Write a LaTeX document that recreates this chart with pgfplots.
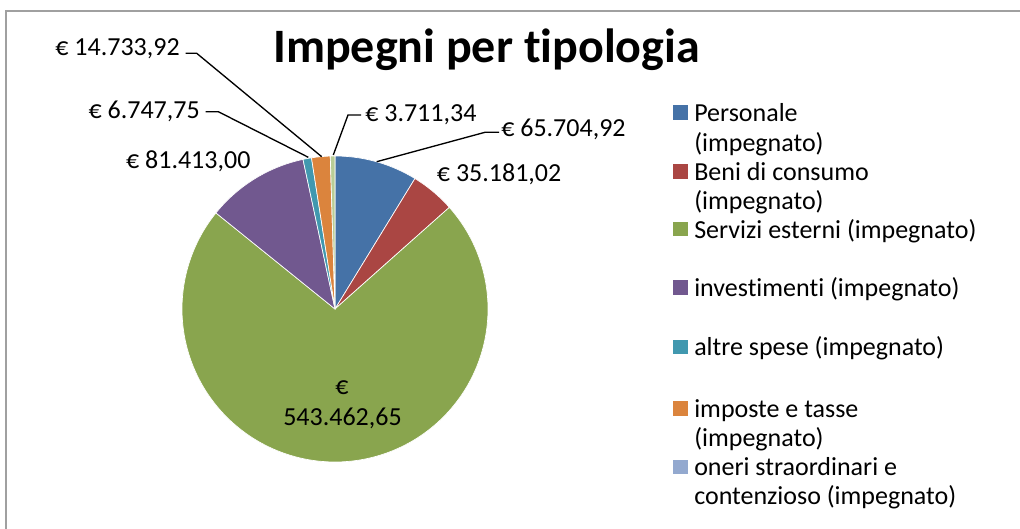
\documentclass[border=0pt]{standalone}
\usepackage{fontspec}
\setmainfont{Carlito}[Ligatures={NoCommon}]
\usepackage{pgfplots}
\usepackage{pgfplotstable}
\pgfplotsset{compat=1.18}
\definecolor{c0}{HTML}{4572A7}
\definecolor{c1}{HTML}{AA4643}
\definecolor{c2}{HTML}{89A54E}
\definecolor{c3}{HTML}{71588F}
\definecolor{c4}{HTML}{4198AF}
\definecolor{c5}{HTML}{DB843D}
\definecolor{c6}{HTML}{B9CD96}
\definecolor{c6leg}{HTML}{93A9CF}
\definecolor{frame}{HTML}{A0A0A0}

\pgfplotstableread{
idx value
0 65704.92
1 35181.02
2 543462.65
3 81413.00
4 6747.75
5 14733.92
6 3711.34
}\piedata

\newcommand{\lab}{\fontsize{19.5pt}{23pt}\selectfont}

\begin{document}
\begin{tikzpicture}
\pgfplotstablegetelem{0}{value}\of\piedata \let\vA\pgfplotsretval
\pgfplotstablegetelem{1}{value}\of\piedata \let\vB\pgfplotsretval
\pgfplotstablegetelem{2}{value}\of\piedata \let\vC\pgfplotsretval
\pgfplotstablegetelem{3}{value}\of\piedata \let\vD\pgfplotsretval
\pgfplotstablegetelem{4}{value}\of\piedata \let\vE\pgfplotsretval
\pgfplotstablegetelem{5}{value}\of\piedata \let\vF\pgfplotsretval
\pgfplotstablegetelem{6}{value}\of\piedata \let\vG\pgfplotsretval
\edef\T{\fpeval{\vA+\vB+\vC+\vD+\vE+\vF+\vG}}
\edef\aA{90}
\edef\aB{\fpeval{round(\aA-360*\vA/\T,4)}}
\edef\aC{\fpeval{round(\aB-360*\vB/\T,4)}}
\edef\aD{\fpeval{round(\aC-360*\vC/\T,4)}}
\edef\aE{\fpeval{round(\aD-360*\vD/\T,4)}}
\edef\aF{\fpeval{round(\aE-360*\vE/\T,4)}}
\edef\aG{\fpeval{round(\aF-360*\vF/\T,4)}}
\edef\aH{\fpeval{round(\aG-360*\vG/\T,4)}}
\def\cx{335}\def\cy{219}\def\pr{153}
\begin{axis}[width=765pt,height=396pt,scale only axis,
  xmin=0,xmax=1020,ymin=0,ymax=528,hide axis,clip=false]
% frame
\draw[frame,line width=1.6pt] (1030,517) -- (6,517) -- (6,-10);
% pie slices
\addplot[fill=c0,draw=white,line width=0.5pt,domain=\aB:\aA,samples=40,variable=\t] ({\cx+\pr*cos(\t)},{\cy+\pr*sin(\t)}) -- (\cx,\cy) -- cycle;
\addplot[fill=c1,draw=white,line width=0.5pt,domain=\aC:\aB,samples=30,variable=\t] ({\cx+\pr*cos(\t)},{\cy+\pr*sin(\t)}) -- (\cx,\cy) -- cycle;
\addplot[fill=c2,draw=white,line width=0.5pt,domain=\aD:\aC,samples=150,variable=\t] ({\cx+\pr*cos(\t)},{\cy+\pr*sin(\t)}) -- (\cx,\cy) -- cycle;
\addplot[fill=c3,draw=white,line width=0.5pt,domain=\aE:\aD,samples=40,variable=\t] ({\cx+\pr*cos(\t)},{\cy+\pr*sin(\t)}) -- (\cx,\cy) -- cycle;
\addplot[fill=c4,draw=white,line width=0.5pt,domain=\aF:\aE,samples=10,variable=\t] ({\cx+\pr*cos(\t)},{\cy+\pr*sin(\t)}) -- (\cx,\cy) -- cycle;
\addplot[fill=c5,draw=white,line width=0.5pt,domain=\aG:\aF,samples=10,variable=\t] ({\cx+\pr*cos(\t)},{\cy+\pr*sin(\t)}) -- (\cx,\cy) -- cycle;
\addplot[fill=c6,draw=white,line width=0.5pt,domain=\aH:\aG,samples=10,variable=\t] ({\cx+\pr*cos(\t)},{\cy+\pr*sin(\t)}) -- (\cx,\cy) -- cycle;
% leader lines
\draw[black,line width=1pt] (185.7,474.7) -- (196.7,474.7) -- (321.7,371.3);
\draw[black,line width=1pt] (205.7,416.3) -- (218.3,416.3) -- (308.3,370.7);
\draw[black,line width=1pt] (333.3,373) -- (348,413) -- (361,413);
\draw[black,line width=1pt] (376.7,366.3) -- (485,395.7) -- (499,395.7);
% data labels
\node[anchor=base east,inner sep=0pt] at (180,472) {\lab € 14.733,92};
\node[anchor=base east,inner sep=0pt] at (200,409.7) {\lab € 6.747,75};
\node[anchor=base east,inner sep=0pt] at (250.7,359.7) {\lab € 81.413,00};
\node[anchor=base west,inner sep=0pt] at (365,406.3) {\lab € 3.711,34};
\node[anchor=base west,inner sep=0pt] at (501,391.3) {\lab € 65.704,92};
\node[anchor=base west,inner sep=0pt] at (436.7,346.3) {\lab € 35.181,02};
\node[anchor=base,inner sep=0pt] at (342,133) {\lab €};
\node[anchor=base,inner sep=0pt] at (342.5,102) {\lab 543.462,65};
% title
\node[anchor=base west,inner sep=0pt] at (273,465.3) {\fontsize{36pt}{40pt}\selectfont\bfseries Impegni per tipologia};
% legend
\fill[c0] (673.3,528-119.7) rectangle (687.7,528-105.3);
\node[anchor=base west,inner sep=0pt] at (694,528-121.7) {\lab Personale};
\node[anchor=base west,inner sep=0pt] at (694,528-151.7) {\lab (impegnato)};
\fill[c1] (673.3,528-178.7) rectangle (687.7,528-164.3);
\node[anchor=base west,inner sep=0pt] at (694,528-180.7) {\lab Beni di consumo};
\node[anchor=base west,inner sep=0pt] at (694,528-210) {\lab (impegnato)};
\fill[c2] (673.3,528-236.3) rectangle (687.7,528-221.9);
\node[anchor=base west,inner sep=0pt] at (694,528-238.3) {\lab Servizi esterni (impegnato)};
\fill[c3] (673.3,528-294.7) rectangle (687.7,528-280.3);
\node[anchor=base west,inner sep=0pt] at (694,528-296.7) {\lab investimenti (impegnato)};
\fill[c4] (673.3,528-354) rectangle (687.7,528-339.6);
\node[anchor=base west,inner sep=0pt] at (694,528-356) {\lab altre spese (impegnato)};
\fill[c5] (673.3,528-415.7) rectangle (687.7,528-401.3);
\node[anchor=base west,inner sep=0pt] at (694,528-417.7) {\lab imposte e tasse};
\node[anchor=base west,inner sep=0pt] at (694,528-446.7) {\lab (impegnato)};
\fill[c6leg] (673.3,528-474) rectangle (687.7,528-459.6);
\node[anchor=base west,inner sep=0pt] at (694,528-476) {\lab oneri straordinari e};
\node[anchor=base west,inner sep=0pt] at (694,528-504) {\lab contenzioso (impegnato)};
\end{axis}
\pgfresetboundingbox
\useasboundingbox (0,0) rectangle (765pt,396pt);
\end{tikzpicture}
\end{document}
